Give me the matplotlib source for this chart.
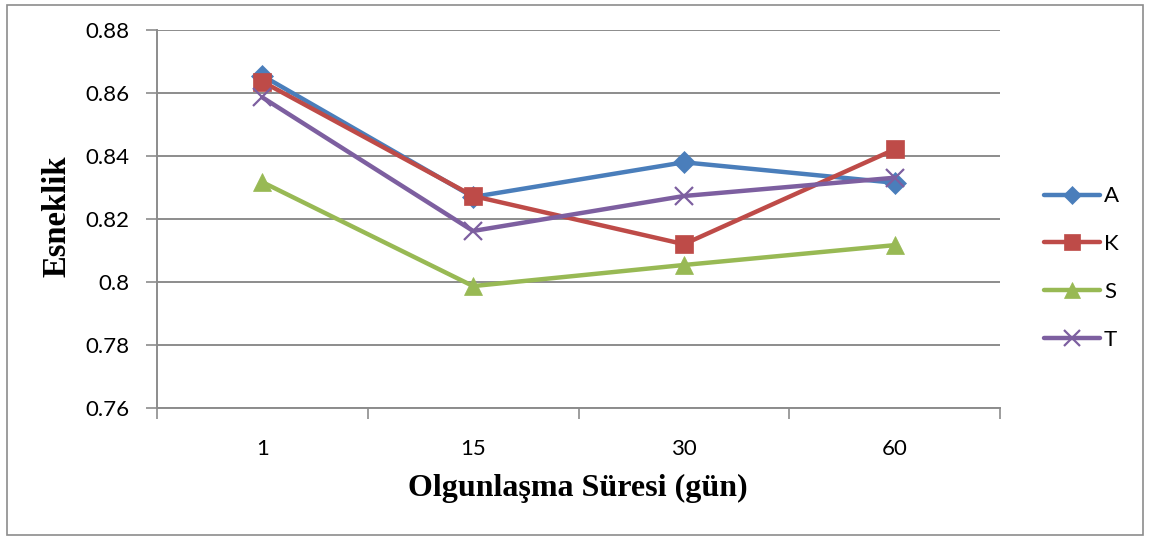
import matplotlib
matplotlib.use("Agg")
import matplotlib.pyplot as plt
from matplotlib.patches import Rectangle
from matplotlib.lines import Line2D

categories = ["1", "15", "30", "60"]
series_names = ["A", "K", "S", "T"]
A = [0.8655, 0.8270, 0.8380, 0.8315]
K = [0.8636, 0.8273, 0.8120, 0.8421]
S = [0.8317, 0.7987, 0.8054, 0.8117]
T = [0.8586, 0.8162, 0.8273, 0.8331]
yticks = [0.76, 0.78, 0.80, 0.82, 0.84, 0.86, 0.88]
ytick_labels = ["0.76", "0.78", "0.8", "0.82", "0.84", "0.86", "0.88"]

colors = ["#4A7EBB", "#BE4B48", "#98B954", "#7D5FA0"]
markers = ["D", "s", "^", "x"]
msizes = [11, 13, 13, 13]

W, H = 1150, 541
fig = plt.figure(figsize=(W / 100, H / 100), dpi=100)
ax = fig.add_axes([157 / W, 1 - 408 / H, (1000 - 157) / W, (408 - 30) / H])

xs = list(range(len(categories)))
for name, vals, c, m, ms in zip(series_names, [A, K, S, T], colors, markers, msizes):
    ax.plot(xs, vals, color=c, lw=3.2, marker=m, markersize=ms,
            markeredgewidth=1.6 if m == "x" else 0.5, markeredgecolor=c,
            markerfacecolor=c, label=name, solid_capstyle="round", zorder=3)

ax.set_xlim(-0.5, 3.5)
ax.set_ylim(0.76, 0.88)
ax.set_yticks(yticks)
ax.set_yticklabels(ytick_labels)
ax.set_xticks(xs)
ax.set_xticklabels(categories)
ax.set_xticks([-0.5, 0.5, 1.5, 2.5, 3.5], minor=True)
ax.tick_params(axis="x", which="major", length=0, pad=22)
ax.tick_params(axis="x", which="minor", length=8, width=1.2, color="#8c8c8c", direction="out")
ax.tick_params(axis="y", length=8, width=1.2, color="#8c8c8c", direction="out", pad=12)
for lab in ax.get_xticklabels() + ax.get_yticklabels():
    lab.set_fontfamily("Lato")
    lab.set_fontsize(16)

ax.grid(axis="y", color="#8c8c8c", lw=1.4, zorder=0)
for s in ["top", "right"]:
    ax.spines[s].set_visible(False)
ax.spines["left"].set_color("#8c8c8c")
ax.spines["bottom"].set_color("#8c8c8c")
ax.spines["left"].set_linewidth(1.4)
ax.spines["bottom"].set_linewidth(1.4)

fig.text(578 / W, 1 - 488 / H, "Olgunlaşma Süresi (gün)", ha="center", va="center",
         fontfamily="Liberation Serif", fontweight="bold", fontsize=23)
fig.text(57 / W, 1 - 216 / H, "Esneklik", ha="center", va="center", rotation=90,
         fontfamily="Liberation Serif", fontweight="bold", fontsize=23.5)

handles = [Line2D([0], [0], color=c, lw=3.2, marker=m, markersize=ms * 0.85,
                  markeredgewidth=1.6 if m == "x" else 0.5, markeredgecolor=c,
                  markerfacecolor=c, solid_capstyle="round")
           for c, m, ms in zip(colors, markers, msizes)]
leg = fig.legend(handles, series_names, loc="center left",
                 bbox_to_anchor=(1024 / W, 1 - 268 / H), frameon=False,
                 handlelength=2.5, handletextpad=0.2, labelspacing=1.25,
                 prop={"family": "Lato", "size": 16})

fig.patches.append(Rectangle((7 / W, 1 - 535 / H), (1143 - 7) / W, (535 - 5) / H,
                             transform=fig.transFigure, fill=False,
                             edgecolor="#8c8c8c", lw=1.2))

fig.savefig("out.png", dpi=100)
